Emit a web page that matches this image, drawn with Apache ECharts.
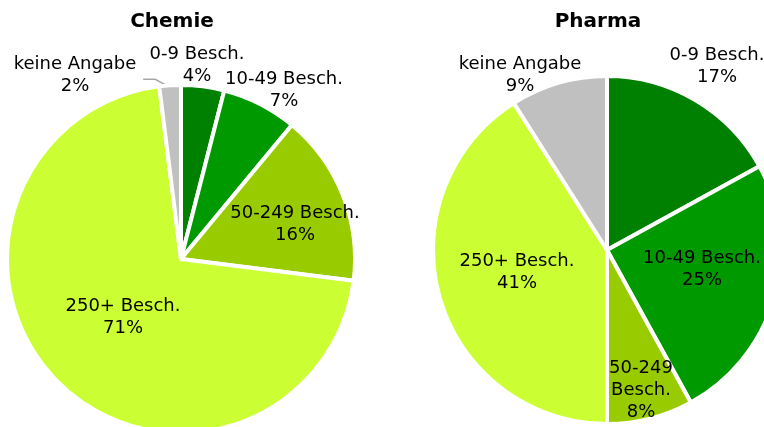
<!DOCTYPE html>
<html>
<head>
<meta charset="utf-8">
<script src="https://cdn.jsdelivr.net/npm/echarts@6/dist/echarts.min.js"></script>
<style>
  html, body { margin: 0; padding: 0; background: #fff; }
  #chart { width: 764px; height: 427px; }
</style>
</head>
<body>
<div id="chart"></div>
<script>
// size classes (Beschäftigte), clockwise from 12 o'clock
const categories = ['0-9 Besch.', '10-49 Besch.', '50-249 Besch.', '250+ Besch.', 'keine Angabe'];
const chemieValues = [4, 7, 16, 71, 2];
const pharmaValues = [17, 25, 8, 41, 9];
const titles = ['Chemie', 'Pharma'];

const colors = ['#008000', '#009900', '#99CC00', '#CCFF33', '#C0C0C0'];
const fontFamily = '"DejaVu Sans", Verdana, sans-serif';

const centers = [[181, 259], [607, 250]];
const pieRadius = 174;
// label centre, as offset from the pie centre (Excel "best fit" placement)
const labelOffsets = [
  [[16, -194], [103, -168.5], [114, -34.5], [-58, 58.5], [-106, -184]],
  [[110, -184], [95, 19], [34, 140], [-90, 22.5], [-87, -175]]
];

function buildData(values, seriesIdx) {
  return values.map((v, i) => {
    const outside = seriesIdx === 0 && i === 4;
    return {
      name: categories[i],
      value: v,
      itemStyle: { color: colors[i] },
      label: { position: outside ? 'outside' : 'inside' },
      labelLine: { show: outside }
    };
  });
}

function midAngle(values, i) {
  const total = values.reduce((s, v) => s + v, 0);
  let before = 0;
  for (let k = 0; k < i; k++) before += values[k];
  return (before + values[i] / 2) / total * 2 * Math.PI;
}

function makeSeries(values, idx) {
  return {
    type: 'pie',
    center: centers[idx],
    radius: pieRadius,
    startAngle: 90,
    clockwise: true,
    silent: true,
    animation: false,
    percentPrecision: 0,
    itemStyle: { borderColor: '#fff', borderWidth: 4 },
    label: {
      color: '#000',
      fontFamily: fontFamily,
      fontSize: 18,
      lineHeight: 22,
      align: 'center',
      formatter: (p) => {
        let name = p.name;
        if (idx === 1 && p.dataIndex === 2) name = name.replace(' ', '\n');
        return name + '\n' + p.percent + '%';
      }
    },
    labelLine: {
      lineStyle: { color: '#A6A6A6', width: 1.5 }
    },
    labelLayout: (p) => {
      const off = labelOffsets[idx][p.dataIndex];
      const res = {
        x: centers[idx][0] + off[0],
        y: centers[idx][1] + off[1],
        align: 'center',
        verticalAlign: 'middle'
      };
      if (idx === 0 && p.dataIndex === 4) {
        const m = midAngle(values, p.dataIndex);
        const x0 = centers[idx][0] + (pieRadius - 2) * Math.sin(m);
        const y0 = centers[idx][1] - (pieRadius - 2) * Math.cos(m);
        res.labelLinePoints = [[x0, y0], [x0 - 15, y0 - 8], [x0 - 27, y0 - 8]];
      }
      return res;
    },
    data: buildData(values, idx)
  };
}

const chart = echarts.init(document.getElementById('chart'), null, { renderer: 'canvas' });
chart.setOption({
  backgroundColor: '#fff',
  animation: false,
  title: [
    { text: titles[0], left: 172, top: 12, textAlign: 'center', padding: 0,
      textStyle: { fontFamily: fontFamily, fontSize: 20, fontWeight: 'bold', color: '#000' } },
    { text: titles[1], left: 598, top: 12, textAlign: 'center', padding: 0,
      textStyle: { fontFamily: fontFamily, fontSize: 20, fontWeight: 'bold', color: '#000' } }
  ],
  series: [makeSeries(chemieValues, 0), makeSeries(pharmaValues, 1)]
});
</script>
</body>
</html>
